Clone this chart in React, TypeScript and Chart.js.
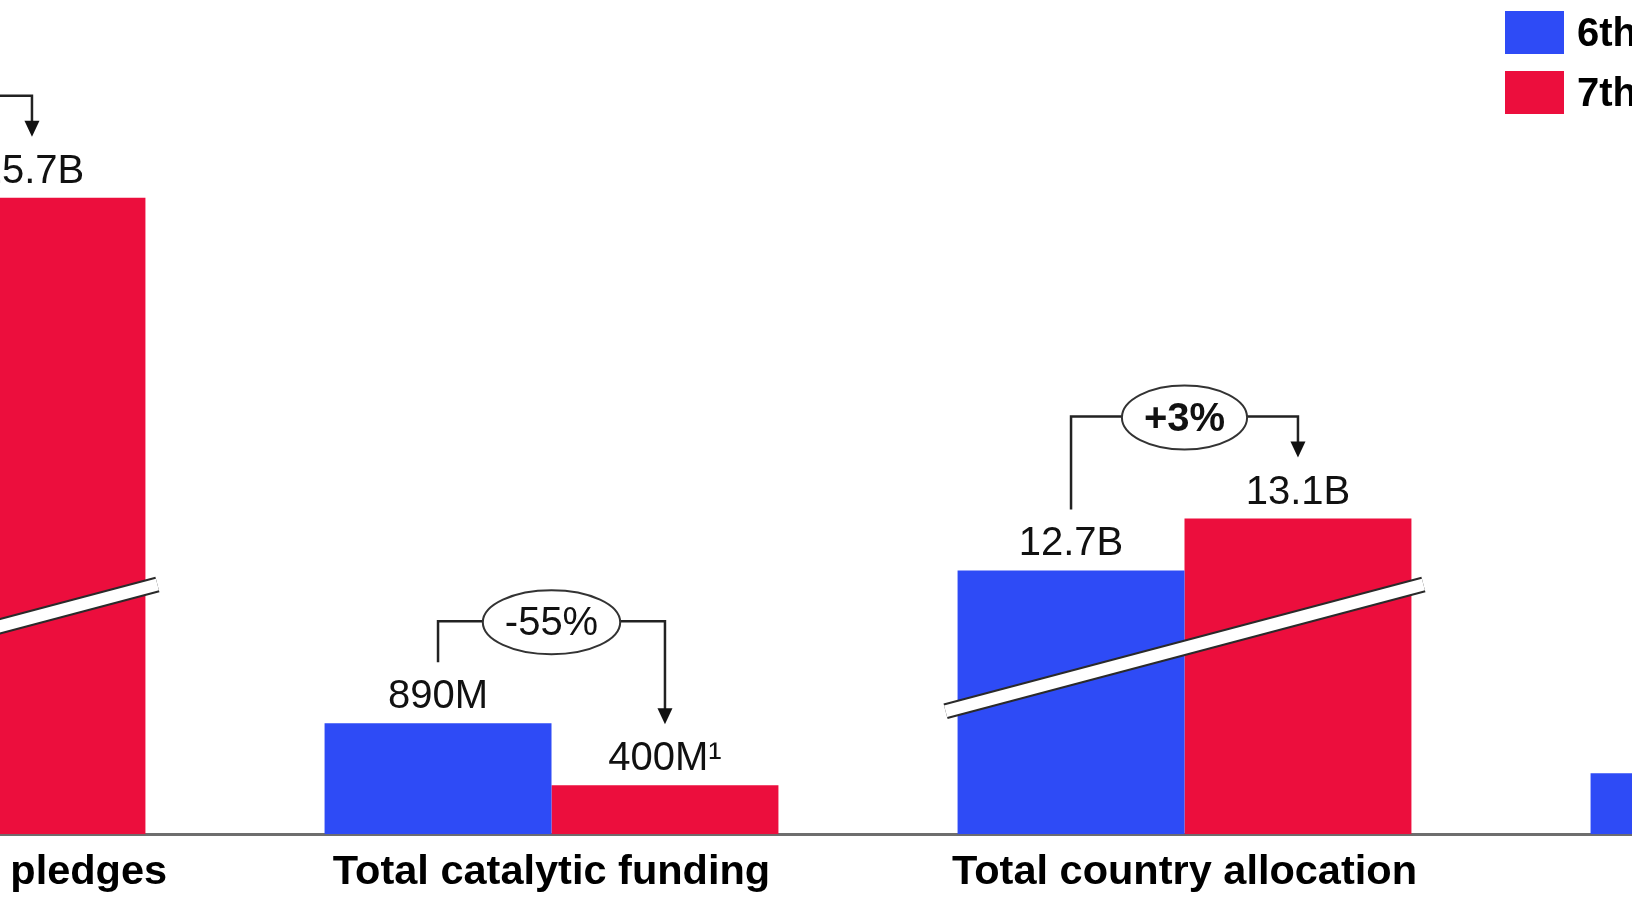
import { useEffect, useRef } from "react";
import { Chart, registerables } from "chart.js";

Chart.register(...registerables);

// ---- data ----
const categories = ["Total announced pledges", "Total catalytic funding", "Total country allocation", "Operating costs"];
const seriesNames = ["6th Replenishment", "7th Replenishment"];
// bar heights as drawn on the chart's broken (non-proportional) y axis
const heights6th = [575, 111, 264, 61];
const heights7th = [637, 49, 316, 45];
const valueLabels6th = ["14.0B", "890M", "12.7B", ""];
const valueLabels7th = ["15.7B", "400M¹", "13.1B", ""];
const changeLabels: (string | null)[] = ["+12%", "-55%", "+3%", null];
const changeBold = [true, false, true, false];
const brokenAxis = [true, false, true, false];
const breakFrom = 123; // break line height at group's left end (axis units)
const breakTo = 250; // break line height at group's right end (axis units)
const yMax = 800;

const BLUE = "#2e4bf6";
const RED = "#ec0e3d";
const FONT = "'Liberation Sans', Arial, Helvetica, sans-serif";

const annotPlugin = {
  id: "annot",
  afterDatasetsDraw(chart: any) {
    const ctx: CanvasRenderingContext2D = chart.ctx;
    const m0 = chart.getDatasetMeta(0);
    const m1 = chart.getDatasetMeta(1);
    const ys = chart.scales.y;

    // axis break lines
    categories.forEach((_, i) => {
      if (!brokenAxis[i]) return;
      const b0 = m0.data[i];
      const b1 = m1.data[i];
      const x0 = b0.x - b0.width / 2 - 12;
      const x1 = b1.x + b1.width / 2 + 12;
      const y0 = ys.getPixelForValue(breakFrom);
      const y1 = ys.getPixelForValue(breakTo);
      ctx.save();
      ctx.lineCap = "butt";
      ctx.beginPath();
      ctx.moveTo(x0, y0);
      ctx.lineTo(x1, y1);
      ctx.strokeStyle = "#2a2a2a";
      ctx.lineWidth = 16;
      ctx.stroke();
      ctx.beginPath();
      ctx.moveTo(x0, y0);
      ctx.lineTo(x1, y1);
      ctx.strokeStyle = "#ffffff";
      ctx.lineWidth = 12;
      ctx.stroke();
      ctx.restore();
    });

    // value labels
    ctx.save();
    ctx.fillStyle = "#111";
    ctx.font = `40px ${FONT}`;
    ctx.textAlign = "center";
    ctx.textBaseline = "alphabetic";
    categories.forEach((_, i) => {
      const b0 = m0.data[i];
      const b1 = m1.data[i];
      if (valueLabels6th[i]) ctx.fillText(valueLabels6th[i], b0.x, b0.y - 15);
      if (valueLabels7th[i]) ctx.fillText(valueLabels7th[i], b1.x, b1.y - 15);
    });
    ctx.restore();

    // change brackets
    categories.forEach((_, i) => {
      const label = changeLabels[i];
      if (!label) return;
      const b0 = m0.data[i];
      const b1 = m1.data[i];
      const yStart = b0.y - 15 - 46;
      const yEnd = b1.y - 15 - 46;
      const yTop = Math.min(yStart, yEnd) - 41;
      const cx = (b0.x + b1.x) / 2;
      ctx.save();
      ctx.font = `${changeBold[i] ? "bold " : ""}40px ${FONT}`;
      const tw = ctx.measureText(label).width;
      const rx = tw / 2 + 22;
      const ry = 32;
      ctx.strokeStyle = "#222";
      ctx.lineWidth = 2.5;
      ctx.beginPath();
      ctx.moveTo(b0.x, yStart);
      ctx.lineTo(b0.x, yTop);
      ctx.lineTo(cx - rx, yTop);
      ctx.moveTo(cx + rx, yTop);
      ctx.lineTo(b1.x, yTop);
      ctx.lineTo(b1.x, yEnd - 14);
      ctx.stroke();
      // arrow head
      ctx.fillStyle = "#111";
      ctx.beginPath();
      ctx.moveTo(b1.x - 7.5, yEnd - 16);
      ctx.lineTo(b1.x + 7.5, yEnd - 16);
      ctx.lineTo(b1.x, yEnd);
      ctx.closePath();
      ctx.fill();
      // ellipse
      ctx.lineWidth = 2;
      ctx.strokeStyle = "#333";
      ctx.beginPath();
      ctx.ellipse(cx, yTop + 1, rx, ry, 0, 0, Math.PI * 2);
      ctx.stroke();
      ctx.fillStyle = "#111";
      ctx.textAlign = "center";
      ctx.textBaseline = "middle";
      ctx.fillText(label, cx, yTop + 3);
      ctx.restore();
    });
  },
  afterDraw(chart: any) {
    const ctx: CanvasRenderingContext2D = chart.ctx;
    const area = chart.chartArea;
    const lx = area.right - 629;
    const colors = [BLUE, RED];
    ctx.save();
    ctx.font = `bold 40px ${FONT}`;
    ctx.textBaseline = "middle";
    ctx.textAlign = "left";
    seriesNames.forEach((name, k) => {
      const top = 11 + k * 60;
      ctx.fillStyle = colors[k];
      ctx.fillRect(lx, top, 59, 43);
      ctx.fillStyle = "#000";
      ctx.fillText(name, lx + 72, top + 24);
    });
    ctx.restore();
  },
};

export default function App() {
  const ref = useRef<HTMLCanvasElement>(null);
  useEffect(() => {
    document.body.style.margin = "0";
    const chart = new Chart(ref.current as HTMLCanvasElement, {
      type: "bar",
      data: {
        labels: categories,
        datasets: [
          {
            label: seriesNames[0],
            data: heights6th,
            backgroundColor: BLUE,
            categoryPercentage: 0.717,
            barPercentage: 1.0,
          },
          {
            label: seriesNames[1],
            data: heights7th,
            backgroundColor: RED,
            categoryPercentage: 0.717,
            barPercentage: 1.0,
          },
        ],
      },
      options: {
        animation: false,
        responsive: false,
        devicePixelRatio: 1,
        layout: { padding: { top: 35, bottom: 3, left: 0, right: 0 } },
        plugins: {
          legend: { display: false },
          tooltip: { enabled: false },
        },
        scales: {
          x: {
            type: "category",
            offset: true,
            z: 1,
            grid: { display: false, drawTicks: false },
            border: { display: true, color: "#6e6e6e", width: 3 },
            ticks: {
              color: "#000",
              padding: 13,
              maxRotation: 0,
              autoSkip: false,
              font: { family: FONT, size: 41.5, weight: "bold" },
            },
          },
          y: {
            display: false,
            min: 0,
            max: yMax,
          },
        },
      },
      plugins: [annotPlugin],
    });
    return () => chart.destroy();
  }, []);

  return (
    <div
      style={{
        position: "fixed",
        left: 0,
        top: 0,
        width: 1632,
        height: 898,
        overflow: "hidden",
        background: "#fff",
      }}
    >
      <canvas
        ref={ref}
        width={2532}
        height={913}
        style={{ position: "absolute", left: -398, top: 0, width: 2532, height: 913 }}
      />
    </div>
  );
}
